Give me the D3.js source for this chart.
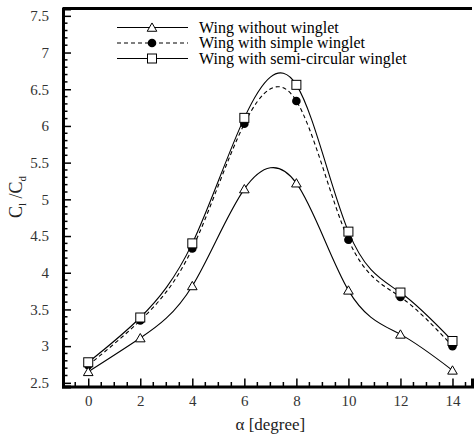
<!DOCTYPE html>
<html>
<head>
<meta charset="UTF-8">
<title>Cl/Cd vs alpha</title>
<script src="https://d3js.org/d3.v7.min.js"></script>
<style>
  body { margin: 0; background: #fff; }
  .curve { fill: none; stroke: #000; stroke-width: 1.1; }
</style>
</head>
<body>
<div id="graphe"></div>
<script>
// angles of attack
var alpha = [0, 2, 4, 6, 8, 10, 12, 14];
// lift to drag ratio for each wing
var noWinglet = [2.65, 3.11, 3.82, 5.14, 5.22, 3.76, 3.16, 2.67];
var simpleWinglet = [2.74, 3.35, 4.33, 6.03, 6.34, 4.45, 3.67, 3.00];
var semiWinglet = [2.78, 3.39, 4.40, 6.11, 6.56, 4.56, 3.73, 3.07];
var seriesNames = ["Wing without winglet", "Wing with simple winglet", "Wing with semi-circular winglet"];
var xTicks = [0, 2, 4, 6, 8, 10, 12, 14];
var yTicks = [2.5, 3, 3.5, 4, 4.5, 5, 5.5, 6, 6.5, 7, 7.5];

var serif = "'Liberation Serif', 'Times New Roman', Times, serif";
var width = 474, height = 438;
var margin = {top: 8.5, right: 2, bottom: 51.5, left: 63};

var svg = d3.select("#graphe").append("svg")
    .attr("width", width)
    .attr("height", height);

var x = d3.scaleLinear().domain([-0.97, 14.75]).range([margin.left, width - margin.right]);
var y = d3.scaleLinear().domain([2.45, 7.6]).range([height - margin.bottom, margin.top]);

var series = [
  {name: seriesNames[0], values: noWinglet, marker: "triangle", dash: null},
  {name: seriesNames[1], values: simpleWinglet, marker: "circle", dash: "4,3"},
  {name: seriesNames[2], values: semiWinglet, marker: "square", dash: null}
];

// axes with inward ticks
var xMinor = d3.range(-0.5, 14.75, 0.5).filter(function(v) { return v % 2 !== 0; });
var yMinor = d3.range(2.5, 7.55, 0.1).filter(function(v) { return Math.abs(v * 2 - Math.round(v * 2)) > 1e-6; });

var xAxis = svg.append("g").attr("transform", "translate(0," + (height - margin.bottom) + ")");
xAxis.call(d3.axisBottom(x).tickValues(xTicks).tickSize(-8).tickPadding(9).tickFormat(d3.format("d")));
xAxis.append("g").selectAll("line").data(xMinor).enter().append("line")
  .attr("x1", function(d) { return x(d); }).attr("x2", function(d) { return x(d); })
  .attr("y1", 0).attr("y2", -4.5).attr("stroke", "#000").attr("stroke-width", 1.5);

var yAxis = svg.append("g").attr("transform", "translate(" + margin.left + ",0)");
yAxis.call(d3.axisLeft(y).tickValues(yTicks).tickSize(-8).tickPadding(14).tickFormat(d3.format("")));
yAxis.append("g").selectAll("line").data(yMinor).enter().append("line")
  .attr("y1", function(d) { return y(d); }).attr("y2", function(d) { return y(d); })
  .attr("x1", 0).attr("x2", 4.5).attr("stroke", "#000").attr("stroke-width", 1.5);

svg.selectAll(".domain").attr("stroke", "#000").attr("stroke-width", 3);
svg.selectAll(".tick line").attr("stroke", "#000").attr("stroke-width", 1.5);
svg.selectAll(".tick text").style("font-size", "15px").style("font-family", serif).attr("fill", "#333");

// top frame line
svg.append("line")
  .attr("x1", margin.left).attr("x2", width - margin.right)
  .attr("y1", margin.top).attr("y2", margin.top)
  .attr("stroke", "#000").attr("stroke-width", 3);

// curves
var line = d3.line()
  .x(function(d) { return x(d[0]); })
  .y(function(d) { return y(d[1]); })
  .curve(d3.curveNatural);

var tri = d3.symbol().type(d3.symbolTriangle).size(40);

function drawMarker(g, kind, cx, cy) {
  if (kind === "triangle") {
    g.append("path").attr("d", tri()).attr("transform", "translate(" + cx + "," + (cy + 1) + ")")
      .attr("fill", "#fff").attr("stroke", "#000").attr("stroke-width", 1);
  } else if (kind === "circle") {
    g.append("circle").attr("cx", cx).attr("cy", cy).attr("r", 4.3).attr("fill", "#000");
  } else {
    g.append("rect").attr("x", cx - 4.5).attr("y", cy - 4.5).attr("width", 9).attr("height", 9)
      .attr("fill", "#fff").attr("stroke", "#000").attr("stroke-width", 1);
  }
}

series.forEach(function(s) {
  var pts = alpha.map(function(a, i) { return [a, s.values[i]]; });
  svg.append("path").datum(pts).attr("class", "curve").attr("d", line)
    .attr("stroke-dasharray", s.dash);
});
// markers drawn after curves
[series[1], series[2], series[0]].forEach(function(s) {
  var g = svg.append("g");
  alpha.forEach(function(a, i) { drawMarker(g, s.marker, x(a), y(s.values[i])); });
});

// legend
var legY = [27.5, 43, 58.5];
series.forEach(function(s, i) {
  var g = svg.append("g");
  g.append("line").attr("x1", 117).attr("x2", 188).attr("y1", legY[i]).attr("y2", legY[i])
    .attr("stroke", "#000").attr("stroke-width", 1.1).attr("stroke-dasharray", s.dash);
  drawMarker(g, s.marker, 152, legY[i]);
  g.append("text").attr("x", 199).attr("y", legY[i] + 5)
    .style("font-family", serif).style("font-size", "16px").text(s.name);
});

// axis titles
svg.append("text").attr("x", x(7)).attr("y", 430).attr("text-anchor", "middle")
  .style("font-family", serif).style("font-size", "17px").attr("fill", "#222").text("α [degree]");

var yl = svg.append("text")
  .attr("transform", "translate(22,197) rotate(-90)")
  .attr("text-anchor", "middle").style("font-family", serif).style("font-size", "18px").attr("fill", "#222");
yl.append("tspan").text("C");
yl.append("tspan").attr("dy", 4).style("font-size", "11px").text("l");
yl.append("tspan").attr("dy", -4).text(" /C");
yl.append("tspan").attr("dy", 4).style("font-size", "11px").text("d");
</script>
</body>
</html>
